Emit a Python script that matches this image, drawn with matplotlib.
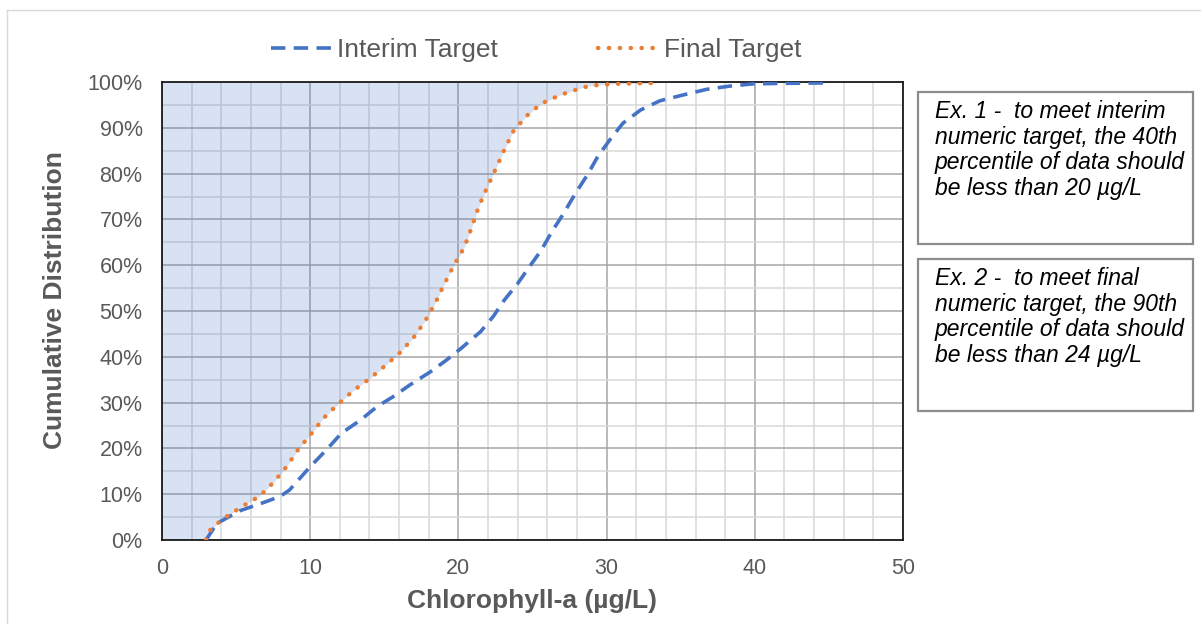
import matplotlib.pyplot as plt
from matplotlib.lines import Line2D
from matplotlib.patches import Rectangle
from matplotlib.ticker import MultipleLocator, PercentFormatter

plt.rcParams['font.family'] = ['Liberation Sans', 'DejaVu Sans']

# cumulative distributions (x in ug/L, y in %)
interim_x = [2.97, 3.7, 5.26, 6.7, 7.96, 8.6, 9.2, 10.0, 11.1, 12.1, 13.4, 14.5, 15.6,
             16.7, 18.1, 19.2, 20.2, 21.5, 22.35, 23.1, 24.0, 24.8, 25.6, 26.3, 27.1,
             27.9, 28.7, 29.4, 30.2, 31.1, 32.3, 33.6, 35.2, 36.75, 38.3, 39.9, 41.9, 44.8]
interim_pct = [0, 3.6, 6.4, 8.0, 9.5, 10.9, 13.1, 16.0, 19.7, 23.3, 26.2, 29.1, 31.3,
               33.8, 36.7, 39.3, 41.9, 45.5, 48.8, 52.4, 56.0, 59.7, 63.3, 67.3, 71.3,
               75.7, 79.7, 83.7, 87.3, 91.0, 93.9, 95.9, 97.2, 98.4, 99.1, 99.6, 99.7, 99.8]

final_x = [2.97, 3.2, 3.7, 4.25, 5.4, 6.6, 7.56, 8.4, 9.2, 10.05, 10.9, 11.9, 12.9,
           14.0, 15.07, 16.06, 17.0, 17.77, 18.45, 19.07, 19.7, 20.4, 20.9, 21.35,
           21.9, 22.5, 23.1, 23.7, 24.6, 25.6, 26.9, 28.2, 28.9, 30.5, 33.4]
final_pct = [0, 2.0, 3.5, 4.9, 7.3, 9.6, 12.7, 16.0, 19.8, 23.1, 26.6, 29.7, 32.6,
             35.2, 38.1, 40.9, 44.3, 47.9, 51.8, 56.0, 60.0, 63.9, 68.3, 72.6,
             76.7, 80.9, 85.2, 89.2, 92.6, 95.3, 97.2, 98.6, 99.2, 99.6, 99.8]

notes = [
    ["Ex. 1 -  to meet interim", "numeric target, the 40th",
     "percentile of data should", "be less than 20 \u00b5g/L"],
    ["Ex. 2 -  to meet final", "numeric target, the 90th",
     "percentile of data should", "be less than 24 \u00b5g/L"],
]

blue = '#4472C4'
orange = '#ED7D31'
grey = '#595959'

W, H = 1201, 624
fig = plt.figure(figsize=(W / 100, H / 100), dpi=100)
ax = fig.add_axes([162 / W, 1 - 540 / H, (903 - 162) / W, (540 - 82) / H])

interim_y = [p / 100 for p in interim_pct]
final_y = [p / 100 for p in final_pct]

ax.set_axisbelow(True)
ax.fill_betweenx(final_y + [1.0], 0, final_x + [final_x[-1]], color=blue, alpha=0.2,
                 lw=0, zorder=1)
ax.plot(interim_x, interim_y, color=blue, lw=2.6, linestyle=(0, (4.0, 2.3)),
        label='Interim Target', zorder=3)
ax.plot(final_x, final_y, color=orange, lw=3.2, linestyle=(0, (0.05, 2.4)),
        dash_capstyle='round', label='Final Target', zorder=4)

ax.set_xlim(0, 50)
ax.set_ylim(0, 1)
ax.xaxis.set_major_locator(MultipleLocator(10))
ax.xaxis.set_minor_locator(MultipleLocator(2))
ax.yaxis.set_major_locator(MultipleLocator(0.1))
ax.yaxis.set_minor_locator(MultipleLocator(0.05))
ax.yaxis.set_major_formatter(PercentFormatter(1.0, decimals=0))
ax.grid(which='major', color='#a6a6a6', lw=1.1)
ax.grid(which='minor', color='#d9d9d9', lw=1.1)
ax.tick_params(which='both', length=0, labelsize=15.5, labelcolor=grey)
ax.tick_params(axis='x', pad=13)
ax.tick_params(axis='y', pad=14)
for s in ax.spines.values():
    s.set_color('#1a1a1a')
    s.set_linewidth(1.3)

fig.text(532 / W, 1 - 601 / H, 'Chlorophyll-a (\u00b5g/L)', ha='center', va='center',
         fontsize=19, fontweight='bold', color=grey)
fig.text(55 / W, 1 - 300 / H, 'Cumulative Distribution', ha='center', va='center',
         rotation=90, fontsize=19, fontweight='bold', color=grey)

fig.legend(loc='center', bbox_to_anchor=(536 / W, 1 - 50 / H), ncol=2, frameon=False,
           fontsize=19, handlelength=2.3, handletextpad=0.2, columnspacing=3.8,
           labelcolor=grey)

# note boxes on the right
boxes = [(918, 92, 244), (918, 259, 411)]
for (bx, top, bottom), lines in zip(boxes, notes):
    fig.patches.append(Rectangle((bx / W, 1 - bottom / H), (1193 - bx) / W,
                                 (bottom - top) / H, transform=fig.transFigure,
                                 fill=False, edgecolor='#8c8c8c', lw=1.6))
    for i, line in enumerate(lines):
        fig.text(935 / W, 1 - (top + 26 + i * 25.7) / H, line, ha='left',
                 va='baseline', fontsize=16.5, fontstyle='italic', color='black')

# outer chart frame
fig.add_artist(Line2D([7 / W, 1], [1 - 10 / H, 1 - 10 / H], transform=fig.transFigure,
                      color='#d9d9d9', lw=1))
fig.add_artist(Line2D([7 / W, 7 / W], [0, 1 - 10 / H], transform=fig.transFigure,
                      color='#d9d9d9', lw=1))

fig.savefig('out.png', dpi=100)
